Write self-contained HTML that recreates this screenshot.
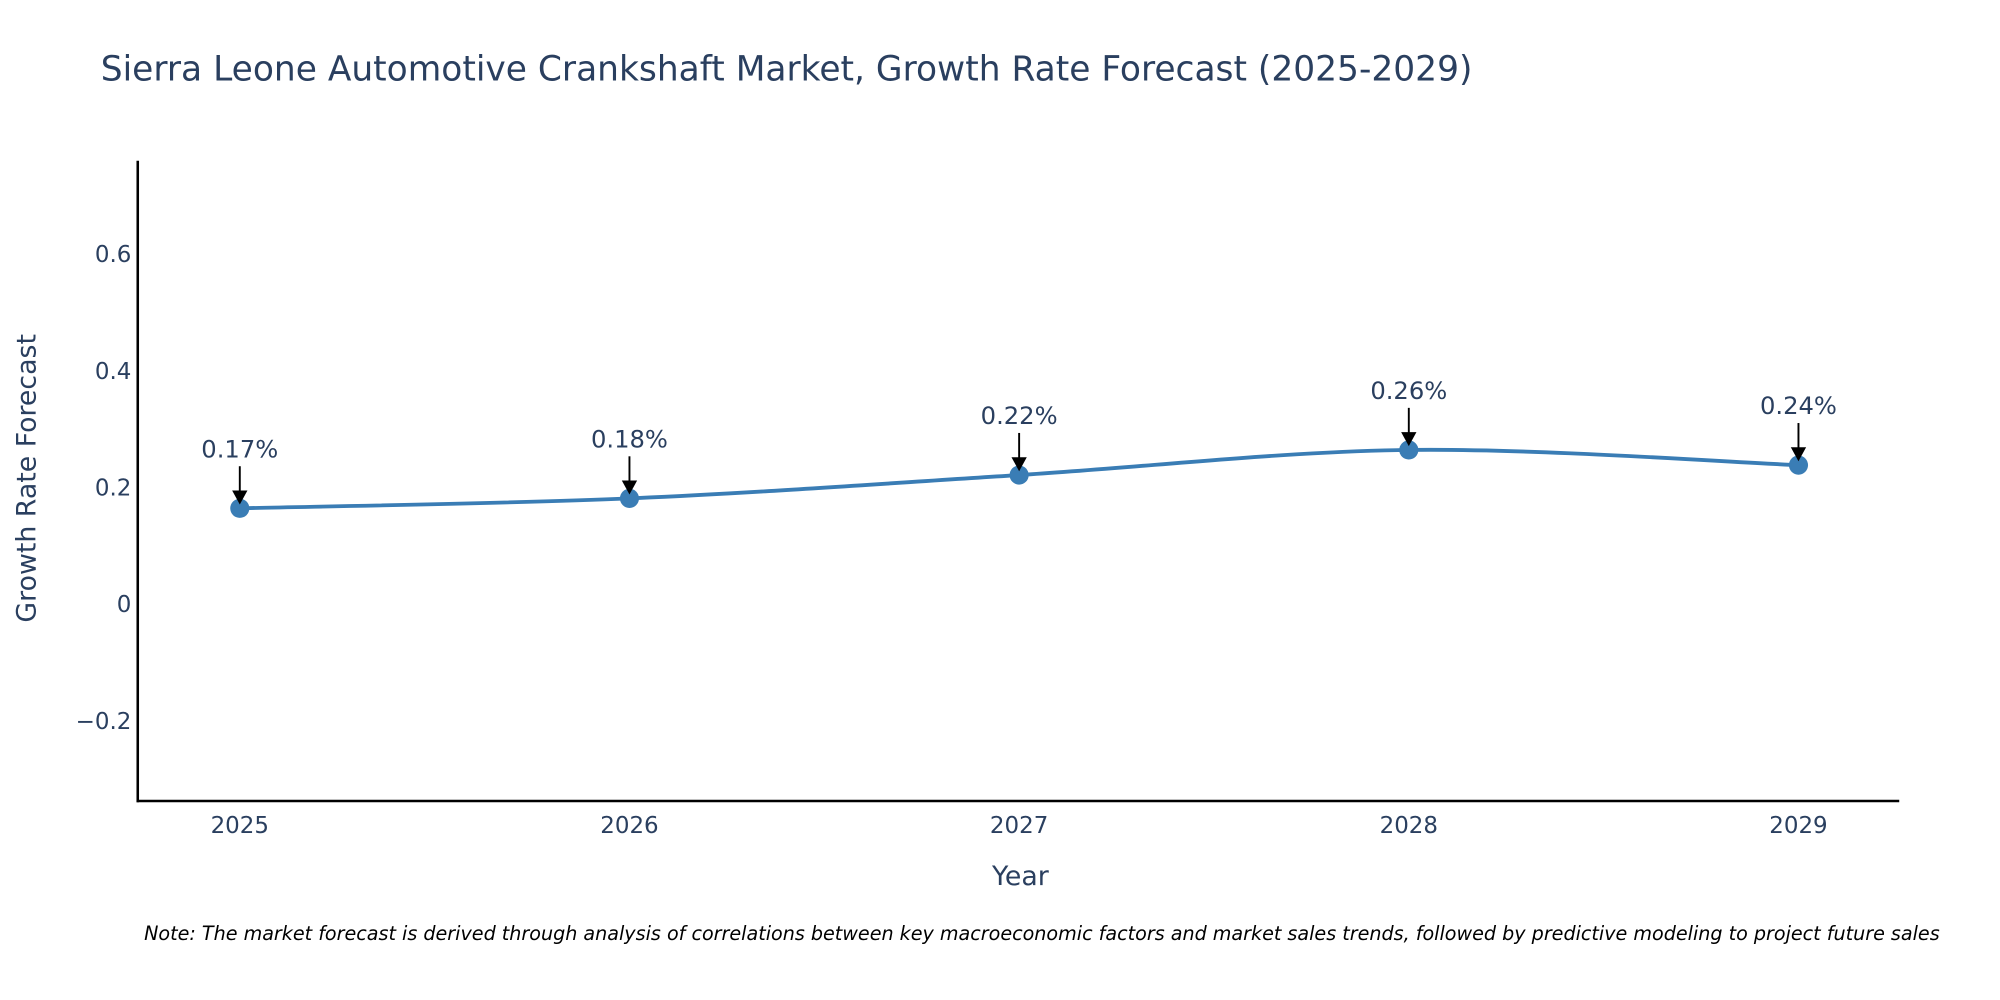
<!DOCTYPE html>
<html><head><meta charset="utf-8"><style>body{margin:0;background:#fff}svg{display:block}text{font-family:"DejaVu Sans","Liberation Sans",sans-serif;fill:#2a3f5f}</style></head>
<body>
<svg id="chart" width="2000" height="1000" viewBox="0 0 1568 784" xmlns="http://www.w3.org/2000/svg">
<text x="79" y="63" font-size="27">Sierra Leone Automotive Crankshaft Market, Growth Rate Forecast (2025-2029)</text>
<g id="yticks"></g><g id="xticks"></g>
<line x1="108" y1="126" x2="108" y2="629" stroke="#000" stroke-width="2"/>
<line x1="107" y1="628" x2="1489" y2="628" stroke="#000" stroke-width="2"/>
<text x="800" y="694" font-size="21" text-anchor="middle">Year</text>
<text transform="translate(28,375) rotate(-90)" font-size="21" text-anchor="middle">Growth Rate Forecast</text>
<g id="series"></g>
<text x="113" y="737" font-size="15" font-style="italic" style="fill:#000">Note: The market forecast is derived through analysis of correlations between key macroeconomic factors and market sales trends, followed by predictive modeling to project future sales</text>
</svg>
<script>
const years = [2025, 2026, 2027, 2028, 2029];
const growth = [0.165, 0.182, 0.222, 0.265, 0.239];
const pointLabels = ["0.17%", "0.18%", "0.22%", "0.26%", "0.24%"];
const yTicks = [-0.2, 0, 0.2, 0.4, 0.6];
const yTickLabels = ["\u22120.2", "0", "0.2", "0.4", "0.6"];
const NS = "http://www.w3.org/2000/svg";
const xs = v => 188 + (v - 2025) * 305.5;
const ys = v => 474 - v * 457.5;
function mk(tag, attrs, parent, txt) {
  const e = document.createElementNS(NS, tag);
  for (const k in attrs) e.setAttribute(k, attrs[k]);
  if (txt !== undefined) e.textContent = txt;
  parent.appendChild(e); return e;
}
const yg = document.getElementById('yticks');
yTicks.forEach((t, i) => {
  const e = mk('text', {x: 103, y: ys(t) + 6, 'font-size': 18, 'text-anchor': 'end'}, yg, yTickLabels[i]);
  
  
});
const xg = document.getElementById('xticks');
years.forEach(y => {
  const e = mk('text', {x: xs(y), y: 653, 'font-size': 18, 'text-anchor': 'middle'}, xg, String(y));
  
  
});
const sg = document.getElementById('series');
const pts = years.map((y, i) => [xs(y), ys(growth[i])]);
let d = 'M' + pts[0][0] + ',' + pts[0][1];
for (let i = 0; i < pts.length - 1; i++) {
  const p0 = pts[i - 1] || pts[i], p1 = pts[i], p2 = pts[i + 1], p3 = pts[i + 2] || p2;
  const t = 1 / 6;
  d += ' C' + (p1[0] + (p2[0] - p0[0]) * t) + ',' + (p1[1] + (p2[1] - p0[1]) * t) + ' ' +
       (p2[0] - (p3[0] - p1[0]) * t) + ',' + (p2[1] - (p3[1] - p1[1]) * t) + ' ' + p2[0] + ',' + p2[1];
}
const line = mk('path', {d: d, fill: 'none', stroke: '#3a7db5', 'stroke-width': 3}, sg);


pts.forEach((p, i) => {
  const c = mk('circle', {cx: p[0], cy: p[1], r: 7.5, fill: '#3a7db5'}, sg);
  
  
  const a = mk('line', {x1: p[0], y1: p[1] - 33, x2: p[0], y2: p[1] - 12, stroke: '#000', 'stroke-width': 1.5}, sg);
  
  
  const h = mk('path', {d: 'M' + (p[0] - 6) + ',' + (p[1] - 14) + ' L' + (p[0] + 6) + ',' + (p[1] - 14) + ' L' + p[0] + ',' + (p[1] - 3) + 'Z', fill: '#000'}, sg);
  
  
  const tx = mk('text', {x: p[0], y: p[1] - 40, 'font-size': 19, 'text-anchor': 'middle'}, sg, pointLabels[i]);
  
  
});
</script>
</body></html>
